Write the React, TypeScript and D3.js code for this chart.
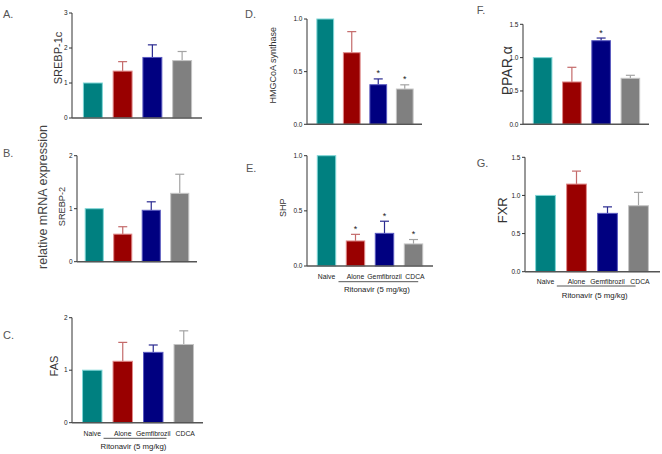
import * as d3 from "d3";

const categories = ["Naive", "Alone", "Gemfibrozil", "CDCA"];
const groupLabel = "Ritonavir (5 mg/kg)";

// means and SEM
const srebp1c = [1.0, 1.34, 1.73, 1.64];
const srebp1cErr = [0, 0.27, 0.36, 0.26];
const srebp2 = [1.0, 0.52, 0.97, 1.29];
const srebp2Err = [0, 0.14, 0.16, 0.36];
const fas = [1.0, 1.17, 1.34, 1.49];
const fasErr = [0, 0.36, 0.14, 0.26];
const hmgcoa = [1.0, 0.68, 0.376, 0.335];
const hmgcoaErr = [0, 0.2, 0.055, 0.04];
const shp = [1.0, 0.227, 0.296, 0.2];
const shpErr = [0, 0.06, 0.11, 0.04];
const ppara = [1.0, 0.635, 1.254, 0.69];
const pparaErr = [0, 0.22, 0.04, 0.045];
const fxr = [1.0, 1.149, 0.765, 0.865];
const fxrErr = [0, 0.17, 0.085, 0.175];

const hmgcoaSig = [false, false, true, true];
const shpSig = [false, true, true, true];
const pparaSig = [false, false, true, false];

const fills = ["#008080", "#990000", "#000080", "#808080"];
const strokes = ["#7fd6d6", "#e08a8a", "#5a5ac0", "#c4c4c4"];
const errColors = ["#008080", "#c46a6a", "#2a2a90", "#a4a4a4"];

const FONT = "'Liberation Sans', Arial, sans-serif";

type PanelCfg = {
  letter: string;
  letterPos: [number, number];
  label: string;
  labelPos: [number, number];
  labelSize: number;
  values: number[];
  errs: number[];
  sig?: boolean[];
  max: number;
  ticks: number[];
  fmt: string;
  x0: number;
  x1: number;
  y0: number;
  yTop: number;
  band: [number, number];
  xAxis?: { base: number; ul: number; ulS: number; ulE: number; rit: number };
};

const panels: PanelCfg[] = [
  {
    letter: "A.", letterPos: [3, 18], label: "SREBP-1c", labelPos: [62, 58], labelSize: 11,
    values: srebp1c, errs: srebp1cErr, max: 3, ticks: [0, 1, 2, 3], fmt: "d",
    x0: 72, x1: 202, y0: 118, yTop: 13, band: [78, 197],
  },
  {
    letter: "B.", letterPos: [3, 157], label: "SREBP-2", labelPos: [65, 206.5], labelSize: 9.2,
    values: srebp2, errs: srebp2Err, max: 2, ticks: [0, 1, 2], fmt: "d",
    x0: 77, x1: 197, y0: 261.7, yTop: 155.7, band: [80, 194],
  },
  {
    letter: "C.", letterPos: [3, 339], label: "FAS", labelPos: [58, 366], labelSize: 11,
    values: fas, errs: fasErr, max: 2, ticks: [0, 1, 2], fmt: "d",
    x0: 72, x1: 203, y0: 422.7, yTop: 317.7, band: [77, 199],
    xAxis: { base: 436, ul: 438.3, ulS: 9, ulE: 3, rit: 448.5 },
  },
  {
    letter: "D.", letterPos: [245, 18], label: "HMGCoA synthase", labelPos: [275.5, 65.3], labelSize: 9,
    values: hmgcoa, errs: hmgcoaErr, sig: hmgcoaSig, max: 1, ticks: [0, 0.5, 1], fmt: ".1f",
    x0: 307, x1: 422, y0: 124.3, yTop: 19, band: [312, 418],
  },
  {
    letter: "E.", letterPos: [246, 171.7], label: "SHP", labelPos: [285.5, 207.8], labelSize: 9,
    values: shp, errs: shpErr, sig: shpSig, max: 1, ticks: [0, 0.5, 1], fmt: ".1f",
    x0: 307, x1: 433, y0: 266, yTop: 155.7, band: [312, 428],
    xAxis: { base: 279.3, ul: 281.7, ulS: 7.3, ulE: 24, rit: 292 },
  },
  {
    letter: "F.", letterPos: [476.7, 14], label: "PPAR α", labelPos: [511.5, 70.8], labelSize: 14,
    values: ppara, errs: pparaErr, sig: pparaSig, max: 1.5, ticks: [0, 0.5, 1, 1.5], fmt: ".1f",
    x0: 523, x1: 649, y0: 124.3, yTop: 24.3, band: [528, 645],
  },
  {
    letter: "G.", letterPos: [476.7, 166.7], label: "FXR", labelPos: [506.5, 210.3], labelSize: 13,
    values: fxr, errs: fxrErr, max: 1.5, ticks: [0, 0.5, 1, 1.5], fmt: ".1f",
    x0: 525, x1: 660, y0: 271.7, yTop: 157.3, band: [530, 654],
    xAxis: { base: 284.3, ul: 286, ulS: 9.3, ulE: 17.7, rit: 298 },
  },
];

function Panel({ p }: { p: PanelCfg }) {
  const y = d3.scaleLinear().domain([0, p.max]).range([p.y0, p.yTop]);
  const x = d3
    .scaleBand<string>()
    .domain(categories)
    .range(p.band)
    .paddingInner(0.33)
    .paddingOuter(0.165);
  const bw = x.bandwidth();
  const fmt = d3.format(p.fmt);
  const cap = 4.5;

  return (
    <g>
      <text x={p.letterPos[0]} y={p.letterPos[1]} fontSize={11} fill="#555" fontFamily={FONT}>
        {p.letter}
      </text>
      <text
        transform={`translate(${p.labelPos[0]},${p.labelPos[1]}) rotate(-90)`}
        textAnchor="middle"
        fontSize={p.labelSize}
        fill="#333"
        fontFamily={FONT}
      >
        {p.label}
      </text>

      {/* bars */}
      {p.values.map((v, i) => {
        const bx = x(categories[i])!;
        const top = y(v);
        const eTop = y(v + p.errs[i]);
        const cx = bx + bw / 2;
        return (
          <g key={i}>
            {p.errs[i] > 0 && (
              <g stroke={errColors[i]} strokeWidth={1.2}>
                <line x1={cx} x2={cx} y1={top} y2={eTop} />
                <line x1={cx - cap} x2={cx + cap} y1={eTop} y2={eTop} />
              </g>
            )}
            <rect
              x={bx + 0.5}
              y={top}
              width={bw - 1}
              height={p.y0 - top}
              fill={fills[i]}
              stroke={strokes[i]}
              strokeWidth={1}
            />
            {p.sig && p.sig[i] && (
              <text x={cx} y={eTop - 2.5} textAnchor="middle" fontSize={9} fill="#222" fontFamily={FONT}>
                *
              </text>
            )}
          </g>
        );
      })}

      {/* y axis */}
      <line x1={p.x0} x2={p.x0} y1={p.y0} y2={p.yTop} stroke="#333" strokeWidth={1} />
      {p.ticks.map((t) => (
        <g key={t}>
          <line x1={p.x0 - 3} x2={p.x0} y1={y(t)} y2={y(t)} stroke="#333" strokeWidth={1} />
          <text
            x={p.x0 - 4.5}
            y={y(t) + 2.2}
            textAnchor="end"
            fontSize={6.5}
            fill="#222"
            fontFamily={FONT}
          >
            {fmt(t)}
          </text>
        </g>
      ))}
      {/* baseline */}
      <line x1={p.x0} x2={p.x1} y1={p.y0} y2={p.y0} stroke="#555" strokeWidth={1.5} />

      {p.xAxis && (
        <g fontFamily={FONT} fill="#222">
          {categories.map((c, i) => (
            <text
              key={c}
              x={x(c)! + bw / 2 + (i === 3 ? 1.5 : 0)}
              y={p.xAxis!.base}
              textAnchor="middle"
              fontSize={6.8}
            >
              {c}
            </text>
          ))}
          <line
            x1={x("Alone")! - p.xAxis.ulS}
            x2={x("Gemfibrozil")! + bw + p.xAxis.ulE}
            y1={p.xAxis.ul}
            y2={p.xAxis.ul}
            stroke="#444"
            strokeWidth={0.9}
          />
          <text
            x={(x("Alone")! - p.xAxis.ulS + x("Gemfibrozil")! + bw + p.xAxis.ulE) / 2 - 1.5}
            y={p.xAxis.rit}
            textAnchor="middle"
            fontSize={7.8}
          >
            {groupLabel}
          </text>
        </g>
      )}
    </g>
  );
}

export default function App() {
  return (
    <svg
      width={662}
      height={454}
      style={{ position: "absolute", left: 0, top: 0, background: "#fff" }}
    >
      <rect width={662} height={454} fill="#fff" />
      <text
        transform="translate(47,197) rotate(-90)"
        textAnchor="middle"
        fontSize={12.5}
        fill="#444"
        fontFamily={FONT}
      >
        relative mRNA expression
      </text>
      {panels.map((p) => (
        <Panel key={p.letter} p={p} />
      ))}
    </svg>
  );
}
